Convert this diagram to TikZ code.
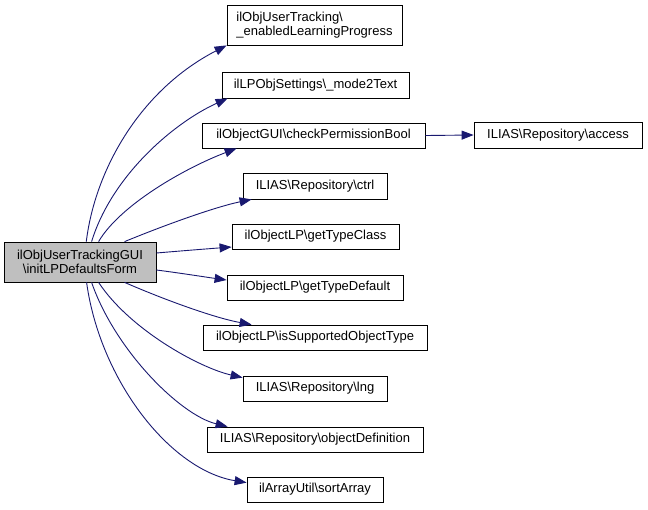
\documentclass[tikz,border=0pt]{standalone}
\usepackage{fontspec}
\setmainfont{Liberation Sans}
\usetikzlibrary{arrows.meta,calc}
\definecolor{edgeblue}{HTML}{191970}
\definecolor{maingray}{HTML}{BFBFBF}
\tikzset{
  fn/.style={draw=black, line width=0.8pt, fill=white, inner sep=0pt, minimum height=25pt,
    font=\fontsize{13}{14.5}\selectfont},
  mainfn/.style={fn, fill=maingray, align=center},
  call/.style={draw=edgeblue, line width=0.9pt, -{Triangle[length=12pt,width=9pt]}}
}
\begin{document}
\begin{tikzpicture}[x=1pt,y=-1pt]
\useasboundingbox (0,0) rectangle (648,509);
\node[mainfn, minimum width=152pt, minimum height=40pt] (main) at (80,262) {ilObjUserTrackingGUI\\\textbackslash initLPDefaultsForm};
\node[fn, minimum width=175pt, minimum height=40pt, align=left] (en) at (314.5,25) {ilObjUserTracking\textbackslash\\\_enabledLearningProgress};
\node[fn, minimum width=187pt, minimum height=26pt] (m2t) at (315.5,85) {ilLPObjSettings\textbackslash\_mode2Text};
\node[fn, minimum width=223pt] (cpb) at (313.5,135.5) {ilObjectGUI\textbackslash checkPermissionBool};
\node[fn, minimum width=168pt, minimum height=26pt] (acc) at (558,135) {ILIAS\textbackslash Repository\textbackslash access};
\node[fn, minimum width=144pt, minimum height=26pt] (ctrl) at (315,186) {ILIAS\textbackslash Repository\textbackslash ctrl};
\node[fn, minimum width=167pt] (gtc) at (315.5,236.5) {ilObjectLP\textbackslash getTypeClass};
\node[fn, minimum width=176pt] (gtd) at (315,287.5) {ilObjectLP\textbackslash getTypeDefault};
\node[fn, minimum width=224pt] (iso) at (315,337.5) {ilObjectLP\textbackslash isSupportedObjectType};
\node[fn, minimum width=144pt] (lng) at (315,388.5) {ILIAS\textbackslash Repository\textbackslash lng};
\node[fn, minimum width=216pt] (od) at (315,439.5) {ILIAS\textbackslash Repository\textbackslash objectDefinition};
\node[fn, minimum width=136pt] (sa) at (315,489.5) {ilArrayUtil\textbackslash sortArray};

\draw[call] ($(main.north west)+(82.7,0)$) .. controls (95,170) and (140,90) .. (en.south west);
\draw[call] ($(main.north west)+(88,0)$) .. controls (112,175) and (175,122) .. ($(m2t.south west)+(6,0)$);
\draw[call] ($(main.north west)+(95,0)$) .. controls (120,205) and (185,168) .. ($(cpb.south west)+(35,0)$);
\draw[call] ($(main.north west)+(121,0)$) .. controls (165,225) and (215,207) .. ($(ctrl.south west)+(9,0)$);
\draw[call] ($(main.east)+(0,-9)$) .. controls (180,251) and (205,249) .. ($(gtc.west)+(0,10.5)$);
\draw[call] ($(main.east)+(0,8)$) .. controls (180,273) and (205,277) .. ($(gtd.west)+(0,-7.5)$);
\draw[call] ($(main.south west)+(121,0)$) .. controls (165,300) and (215,318) .. ($(iso.north west)+(49,0)$);
\draw[call] ($(main.south west)+(95,0)$) .. controls (130,330) and (200,368) .. ($(lng.north west)+(0,2)$);
\draw[call] ($(main.south west)+(88,0)$) .. controls (115,350) and (180,415) .. ($(od.north west)+(21,0)$);
\draw[call] ($(main.south west)+(83,0)$) .. controls (100,380) and (170,470) .. ($(sa.north west)+(0,6)$);
\draw[call] (cpb.east) -- (acc.west);
\end{tikzpicture}
\end{document}
